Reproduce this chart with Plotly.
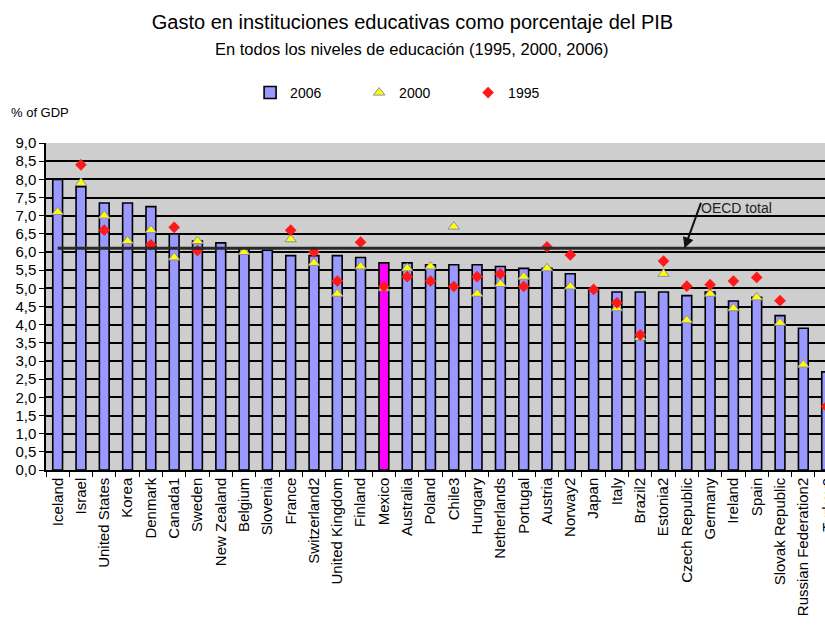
import plotly.graph_objects as go

countries = ["Iceland", "Israel", "United States", "Korea", "Denmark", "Canada1", "Sweden",
             "New Zealand", "Belgium", "Slovenia", "France", "Switzerland2", "United Kingdom",
             "Finland", "Mexico", "Australia", "Poland", "Chile3", "Hungary", "Netherlands",
             "Portugal", "Austria", "Norway2", "Japan", "Italy", "Brazil2", "Estonia2",
             "Czech Republic", "Germany", "Ireland", "Spain", "Slovak Republic",
             "Russian Federation2", "Turkey2"]

v2006 = [8.0, 7.8, 7.35, 7.35, 7.25, 6.5, 6.3, 6.25, 6.1, 6.05, 5.9, 5.9, 5.9, 5.85,
         5.7, 5.7, 5.65, 5.65, 5.65, 5.6, 5.55, 5.55, 5.4, 4.97, 4.9, 4.9, 4.9, 4.8,
         4.9, 4.65, 4.75, 4.25, 3.9, 2.7]

v2000 = [7.1, 7.9, 7.0, 6.3, 6.6, 5.85, 6.3, None, 6.0, None, 6.35, 5.7, 4.85, 5.6,
         5.0, 5.55, 5.6, 6.7, 4.85, 5.12, 5.32, 5.55, 5.05, None, 4.45, 3.65, 5.4, 4.12,
         4.85, 4.45, 4.75, 4.05, 2.9, None]

v1995 = [None, 8.4, 6.6, None, 6.2, 6.68, 6.04, None, None, None, 6.6, 6.0, 5.2, 6.27,
         5.05, 5.32, 5.2, 5.05, 5.32, 5.4, 5.05, 6.14, 5.92, 4.97, 4.6, 3.72, 5.75, 5.06,
         5.1, 5.2, 5.3, 4.66, None, 1.75]

oecd_total = 6.1
highlight = "Mexico"

title = "Gasto en instituciones educativas como porcentaje del PIB"
subtitle = "En todos los niveles de educación (1995, 2000, 2006)"

FONT = "Liberation Sans, Arial, sans-serif"
x_max = 32.93  # axis view ends inside the last category (chart is cropped)

bar_colors = ["#ff00ff" if c == highlight else "#9999ff" for c in countries]

fig = go.Figure()
fig.add_trace(go.Bar(
    x=countries, y=v2006, name="2006", width=0.42,
    marker=dict(color=bar_colors, line=dict(color="#000000", width=1.6)),
))
fig.add_trace(go.Scatter(
    x=countries, y=v2000, name="2000", mode="markers",
    marker=dict(symbol="triangle-up", size=10, color="#ffff00",
                line=dict(color="#8a8ab0", width=1)),
))
fig.add_trace(go.Scatter(
    x=countries, y=v1995, name="1995", mode="markers",
    marker=dict(symbol="diamond", size=9, color="#ff1a1a",
                line=dict(color="#ff1a1a", width=0)),
))

fig.add_shape(type="line", xref="x", yref="y", x0=countries[0], x1=countries[-1],
              y0=oecd_total, y1=oecd_total, line=dict(color="#2a2a2a", width=3))

# arrow and label for OECD total
fig.add_annotation(x=26.9, y=oecd_total, xref="x", yref="y", text="", showarrow=True,
                   ax=17, ay=-47, arrowhead=2, arrowsize=1.1, arrowwidth=2,
                   arrowcolor="#111111")
fig.add_annotation(x=29.15, y=7.22, xref="x", yref="y", text="OECD total",
                   showarrow=False, font=dict(family=FONT, size=14, color="#222222"))

# cropped last category label
fig.add_annotation(x=(33 + 0.5) / (x_max + 0.5), y=0, xref="paper", yref="paper",
                   text=countries[-1], textangle=-90, showarrow=False,
                   xanchor="center", yanchor="top", yshift=-6,
                   font=dict(family=FONT, size=15, color="#000000"))

fig.add_annotation(x=-0.048, y=1.092, xref="paper", yref="paper", text="% of GDP",
                   showarrow=False, xanchor="left", yanchor="middle",
                   font=dict(family=FONT, size=13, color="#000000"))

fig.add_annotation(x=0.47, y=1.288, xref="paper", yref="paper", text=subtitle,
                   showarrow=False, xanchor="center", yanchor="middle",
                   font=dict(family=FONT, size=16.5, color="#000000"))

fig.update_layout(
    width=825, height=628,
    margin=dict(l=46, r=0, t=143, b=158),
    paper_bgcolor="#ffffff", plot_bgcolor="#cecece",
    separators=",.",
    font=dict(family=FONT, color="#000000"),
    title=dict(text=title, x=0.5, xanchor="center",
               y=1 - 22 / 628, yanchor="middle",
               font=dict(family=FONT, size=20, color="#000000")),
    showlegend=True,
    legend=dict(orientation="h", x=0.262, xanchor="left", y=1.153, yanchor="middle",
                font=dict(family=FONT, size=14, color="#000000"),
                bgcolor="rgba(0,0,0,0)", entrywidth=64, itemwidth=30,
                traceorder="normal"),
)
fig.update_layout(title_xref="container")

fig.update_xaxes(range=[-0.5, x_max], type="category", tickangle=-90,
                 ticks="outside", tickson="boundaries", ticklen=5, tickcolor="#000000",
                 showline=True, linecolor="#000000", linewidth=1.5, showgrid=False,
                 tickfont=dict(family=FONT, size=15, color="#000000"))
fig.update_yaxes(range=[0, 9], dtick=0.5, tickformat=".1f", ticks="outside", ticklen=5,
                 tickcolor="#000000", showline=True, linecolor="#000000", linewidth=1.5,
                 showgrid=True, gridcolor="#000000", gridwidth=2, zeroline=False,
                 tickfont=dict(family=FONT, size=15, color="#000000"))

fig.write_html("out.html")
